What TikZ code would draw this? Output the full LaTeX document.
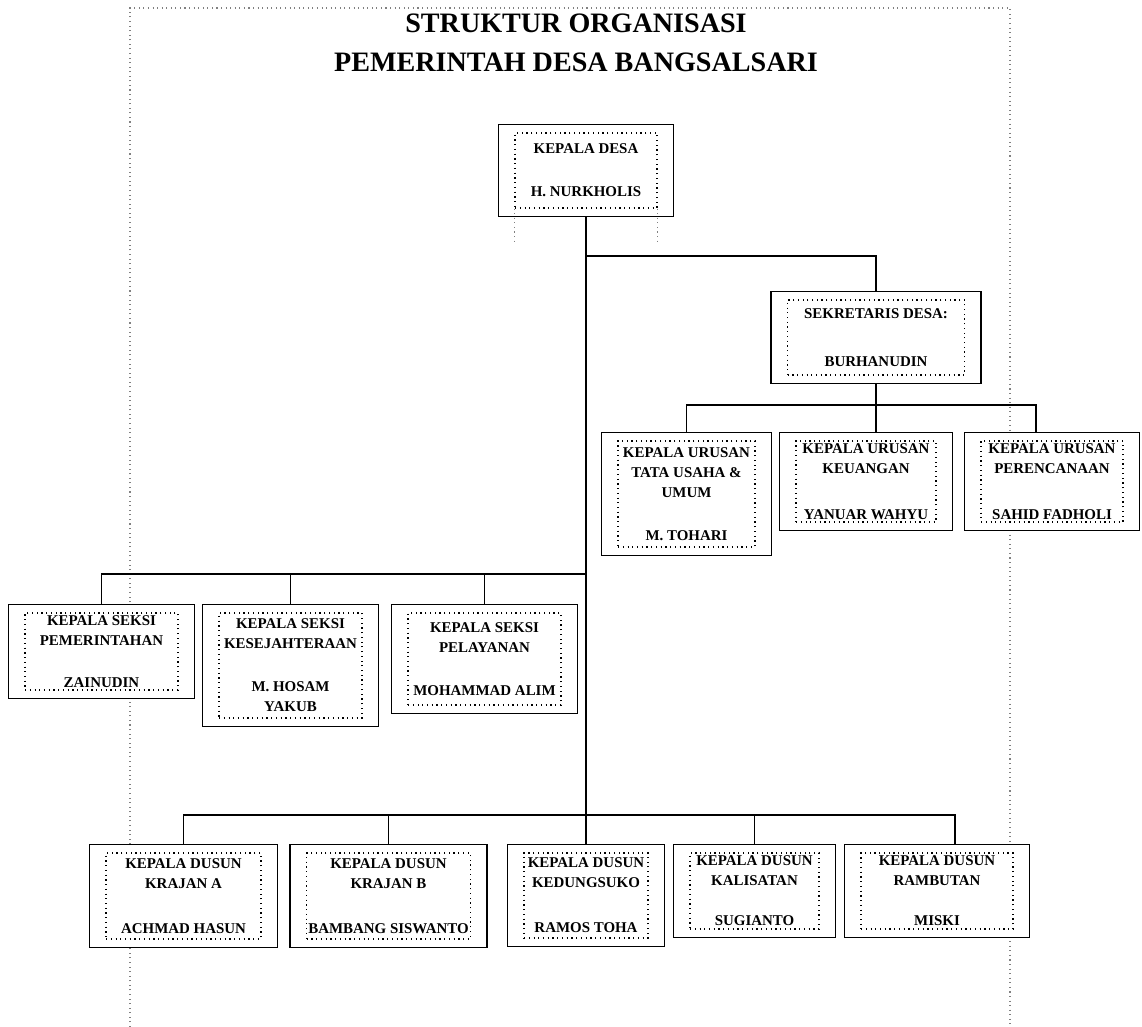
\documentclass[tikz,border=0pt]{standalone}
\usepackage{fontspec}
\setmainfont{Liberation Serif}
\usetikzlibrary{positioning,fit,calc,backgrounds}

\begin{document}
\begin{tikzpicture}[x=0.02cm, y=-0.02cm,
  inbox/.style={rectangle, draw, dotted, line width=0.7pt, align=center,
    font=\fontsize{8.5}{11.38}\selectfont\bfseries, inner sep=1pt},
  outbox/.style={rectangle, draw, line width=0.9pt, fill=white,
    inner xsep=0.32cm, inner ysep=0.16cm},
  link/.style={line width=0.8pt},
  page/.style={dotted, gray, line width=0.6pt},
  title/.style={font=\fontsize{16}{22}\selectfont\bfseries, align=center}
]
\useasboundingbox (0,0) rectangle (1142,1027);

% Title
\node[title] (title) at (576,43) {STRUKTUR ORGANISASI\\PEMERINTAH DESA BANGSALSARI};

% Units
\node[inbox, minimum width=2.84cm, minimum height=1.5cm] (desa) at (586,170.5) {KEPALA DESA\\[0.46cm]H. NURKHOLIS};
\node[inbox, minimum width=3.54cm, minimum height=1.5cm] (sek) at (876,337.5) {SEKRETARIS DESA:\\[0.56cm]BURHANUDIN};

\node[inbox, minimum width=2.74cm, minimum height=2.12cm] (kaurtu) at (686.5,494) {KEPALA URUSAN\\TATA USAHA \&\\UMUM\\[0.46cm]M. TOHARI};
\node[inbox, minimum width=2.8cm, minimum height=1.62cm] (keu) at (866,481.5) {KEPALA URUSAN\\KEUANGAN\\[0.52cm]YANUAR WAHYU};
\node[inbox, minimum width=2.84cm, minimum height=1.62cm] (kaurp) at (1052,481.5) {KEPALA URUSAN\\PERENCANAAN\\[0.52cm]SAHID FADHOLI};

\node[inbox, minimum width=3.06cm, minimum height=1.54cm] (pem) at (101.5,651.5) {KEPALA SEKSI\\PEMERINTAHAN\\[0.44cm]ZAINUDIN};
\node[inbox, minimum width=2.86cm, minimum height=2.1cm] (kes) at (290.5,665.5) {KEPALA SEKSI\\KESEJAHTERAAN\\[0.46cm]M. HOSAM\\YAKUB};
\node[inbox, minimum width=3.06cm, minimum height=1.84cm] (pel) at (484.5,659) {KEPALA SEKSI\\PELAYANAN\\[0.46cm]MOHAMMAD ALIM};

\node[inbox, minimum width=3.1cm, minimum height=1.72cm] (da) at (183.5,896) {KEPALA DUSUN\\KRAJAN A\\[0.5cm]ACHMAD HASUN};
\node[inbox, minimum width=3.26cm, minimum height=1.72cm] (db) at (388.5,896) {KEPALA DUSUN\\KRAJAN B\\[0.5cm]BAMBANG SISWANTO};
\node[inbox, minimum width=2.48cm, minimum height=1.7cm] (ked) at (586,895.5) {KEPALA DUSUN\\KEDUNGSUKO\\[0.5cm]RAMOS TOHA};
\node[inbox, minimum width=2.58cm, minimum height=1.52cm] (kal) at (754.5,891) {KEPALA DUSUN\\KALISATAN\\[0.4cm]SUGIANTO};
\node[inbox, minimum width=3.04cm, minimum height=1.52cm] (ramb) at (937,891) {KEPALA DUSUN\\RAMBUTAN\\[0.4cm]MISKI};

% Page frame and outer boxes
\begin{scope}[on background layer]
  \draw[page] (130,1027) -- (130,8) -- (1010,8) -- (1010,1027);
  \foreach \nm in {desa,sek,kaurtu,keu,kaurp,pem,kes,pel,da,db,ked,kal,ramb} {
    \node[outbox, fit=(\nm)] (o\nm) {};
  }
\end{scope}
\draw[page] (desa.south west) -- ++(0,32);
\draw[page] (desa.south east) -- ++(0,32);

% Lines
\coordinate (jsek) at (587,256);
\coordinate (jkaur) at (876,405);
\coordinate (jseksi) at (587,574);
\coordinate (jdusun) at (587,815);

\draw[link] (odesa.south) -- (oked.north);
\draw[link] (jsek) -| (osek.north);

\draw[link] (osek.south) -- (jkaur);
\draw[link] (okaurtu.north) |- (jkaur) -| ([xshift=-0.32cm]okaurp.north);
\draw[link] (jkaur) -- (jkaur |- okeu.north);

\draw[link] (opem.north) |- (jseksi);
\foreach \nm in {kes, pel} {
  \draw[link] (o\nm.north) -- (o\nm.north |- jseksi);
}

\draw[link] (oda.north) |- (jdusun) -| ([xshift=0.36cm]oramb.north);
\foreach \nm in {db, kal} {
  \draw[link] (o\nm.north) -- (o\nm.north |- jdusun);
}

\end{tikzpicture}
\end{document}
